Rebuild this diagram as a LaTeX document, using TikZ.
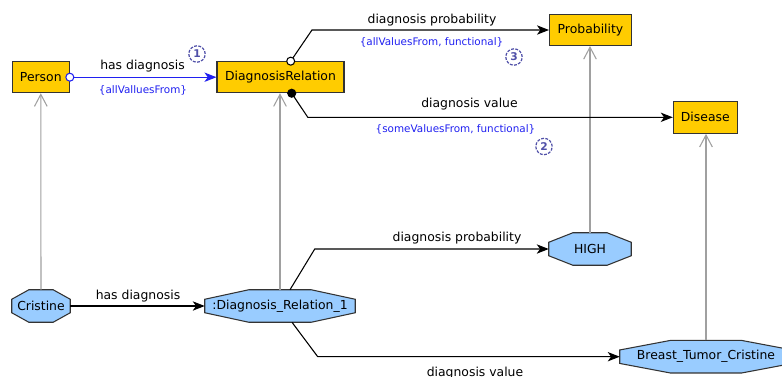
\documentclass[tikz,border=0pt]{standalone}
\usepackage{fontspec}
\setmainfont{DejaVu Sans}
\usetikzlibrary{arrows.meta,calc,backgrounds}
\definecolor{clsfill}{HTML}{FFCC00}
\definecolor{indfill}{HTML}{99CCFF}
\definecolor{bordercol}{HTML}{333333}
\definecolor{restrblue}{HTML}{2020F0}
\definecolor{numcol}{HTML}{5050A8}
\definecolor{isagray}{HTML}{A0A0A0}
\tikzset{
  lbl/.style={font=\fontsize{9.3}{11}\selectfont, text=black, anchor=base, inner sep=0pt},
  restr/.style={font=\fontsize{7.8}{9}\selectfont, text=restrblue, anchor=base, inner sep=0pt},
  cls/.style={draw=bordercol, fill=clsfill, line width=0.8pt, font=\fontsize{9.3}{11}\selectfont, inner sep=0pt},
  ind/.style={font=\fontsize{9.3}{11}\selectfont, inner sep=0pt},
  octfill/.style={draw=bordercol, fill=indfill, line width=0.8pt},
  rel/.style={draw=black, line width=0.8pt, -{Stealth[length=9pt,width=7pt,inset=2.5pt]}},
  bluerel/.style={draw=restrblue, line width=0.8pt, -{Stealth[length=9pt,width=7pt,inset=2.5pt]}},
  isa/.style={draw=isagray, line width=0.8pt, -{Straight Barb[length=9pt,width=9.5pt]}},
  numc/.style={circle, draw=numcol, dash pattern=on 2.2pt off 1pt, line width=0.9pt, text=numcol, font=\bfseries\fontsize{8}{9}\selectfont, minimum size=12.3pt, inner sep=0pt}
}
\begin{document}
\begin{tikzpicture}[x=0.75pt,y=-0.75pt]
\useasboundingbox (0,0) rectangle (782,376);
% classes
\node[cls, minimum width=42.75pt, minimum height=23.25pt] (person) at (40.8,77.2) {Person};
\node[cls, minimum width=95.25pt, minimum height=23.25pt] (dr) at (280.5,77.2) {DiagnosisRelation};
\node[cls, minimum width=61.5pt, minimum height=23.25pt] (prob) at (590.5,30) {Probability};
\node[cls, minimum width=48pt, minimum height=24pt] (dis) at (705.3,117.3) {Disease};
% individuals
\node[ind, minimum width=43.5pt, minimum height=24pt] (cris) at (41,306) {Cristine};
\node[ind, minimum width=112.5pt, minimum height=24pt] (dr1) at (280,306) {:Diagnosis\_Relation\_1};
\node[ind, minimum width=61.5pt, minimum height=24pt] (high) at (590,249) {HIGH};
\node[ind, minimum width=129pt, minimum height=24pt] (breast) at (706,356.7) {Breast\_Tumor\_Cristine};
\begin{pgfonlayer}{background}
\foreach \n in {cris,dr1,high,breast}{
  \filldraw[octfill] ($(\n.north west)!0.293!(\n.north east)$) -- ($(\n.north east)!0.293!(\n.north west)$) -- ($(\n.north east)!0.293!(\n.south east)$) -- ($(\n.south east)!0.293!(\n.north east)$) -- ($(\n.south east)!0.293!(\n.south west)$) -- ($(\n.south west)!0.293!(\n.south east)$) -- ($(\n.south west)!0.293!(\n.north west)$) -- ($(\n.north west)!0.293!(\n.south west)$) -- cycle;
}
\end{pgfonlayer}
% is-a / instance-of
\draw[isa] (cris.north) -- (person.south);
\draw[isa] (dr1.north) -- (dr1.north |- dr.south);
\draw[isa] (high.north) -- (high.north |- prob.south);
\draw[isa] (breast.north) -- (breast.north |- dis.south);
% class level relations
\draw[bluerel] (person.east) -- (dr.west);
\draw[rel] ($(dr.north)+(10.2,0)$) -- ($(prob.west)+(-237,0)$) -- (prob.west);
\draw[rel] ($(dr.south)+(11.2,0)$) -- ($(dis.west)+(-365,0)$) -- (dis.west);
\filldraw[draw=restrblue, fill=white, line width=0.8pt] (person.east) circle[radius=3pt];
\filldraw[draw=black, fill=white, line width=0.8pt] ($(dr.north)+(10.2,0)$) circle[radius=3pt];
\filldraw[draw=black, fill=black, line width=0.8pt] ($(dr.south)+(11.2,0)$) circle[radius=3pt];
% individual level relations
\draw[rel] (cris.east) -- (dr1.west);
\draw[rel] ($(dr1.north)+(10,0)$) -- ($(high.west)+(-234,0)$) -- (high.west);
\draw[rel] ($(dr1.south)+(12,0)$) -- ($(breast.west)+(-302,0)$) -- (breast.west);
% labels
\node[lbl] (l1) at (142.5,69.5) {has diagnosis};
\node[restr] (r1) at (143,93) {\{allValluesFrom\}};
\node[numc] (n1) at (197,54) {1};
\node[lbl] (l2) at (432,23.5) {diagnosis probability};
\node[restr] (r2) at (431.5,45) {\{allValuesFrom, functional\}};
\node[numc] (n3) at (514,57) {3};
\node[lbl] (l3) at (469.5,107) {diagnosis value};
\node[restr] (r3) at (455.5,132.5) {\{someValuesFrom, functional\}};
\node[numc] (n2) at (544,146.5) {2};
\node[lbl] (l4) at (138,299.3) {has diagnosis};
\node[lbl] (l5) at (457,241) {diagnosis probability};
\node[lbl] (l6) at (475,376) {diagnosis value};
\end{tikzpicture}
\end{document}
